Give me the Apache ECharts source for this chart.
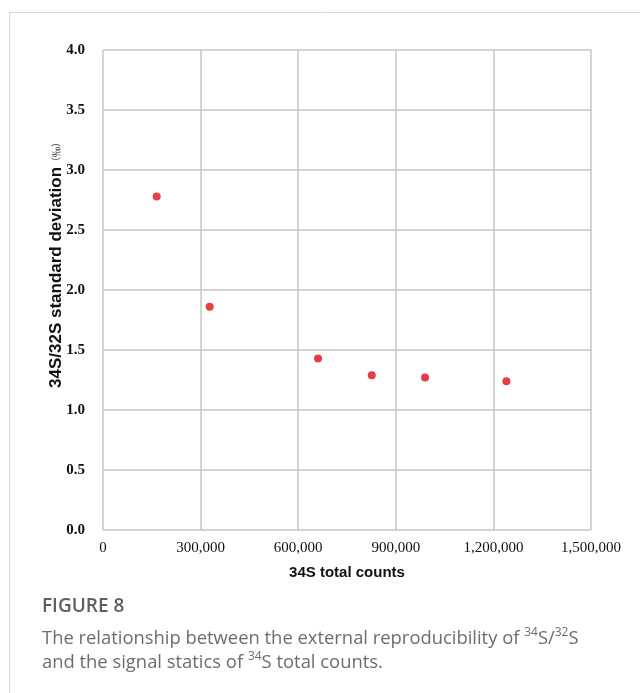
<!DOCTYPE html>
<html>
<head>
<meta charset="utf-8">
<script src="https://cdn.jsdelivr.net/npm/echarts@6/dist/echarts.min.js"></script>
<style>
  html, body { margin: 0; padding: 0; background: #fff; }
  #chart { width: 640px; height: 693px; }
</style>
</head>
<body>
<div id="chart"></div>
<script>
// 34S total counts per analysis and the resulting 34S/32S standard deviation (‰)
const totalCounts = [165000, 328000, 661000, 826000, 990000, 1240000];
const stdDeviation = [2.78, 1.86, 1.43, 1.29, 1.27, 1.24];

// Axis ranges and tick spacing
const xTicks = { min: 0, max: 1500000, step: 300000 };
const yTicks = { min: 0, max: 4, step: 0.5 };

const points = totalCounts.map((c, i) => [c, stdDeviation[i]]);

const chart = echarts.init(document.getElementById('chart'), null, { renderer: 'canvas' });

const gridColor = '#c6c6c6';
const serif = '"Liberation Serif", "Times New Roman", serif';
const sans = '"Liberation Sans", Arial, sans-serif';
const captionFont = '"Open Sans", "Noto Sans", sans-serif';
const captionColor = '#6d6d6d';

const captionRich = {
  t: { fontFamily: captionFont, fontSize: 18.4, fill: captionColor, lineHeight: 24 },
  s: { fontFamily: captionFont, fontSize: 12, fill: captionColor, lineHeight: 13, verticalAlign: 'top' }
};

chart.setOption({
  animation: false,
  backgroundColor: '#fff',
  grid: { left: 103, right: 49, top: 50, bottom: 163, containLabel: false },
  xAxis: {
    type: 'value',
    min: xTicks.min, max: xTicks.max, interval: xTicks.step,
    axisLine: { show: false },
    axisTick: { show: false },
    splitLine: { show: true, lineStyle: { color: gridColor, width: 1.5 } },
    axisLabel: {
      margin: 11,
      fontFamily: serif, fontSize: 15, color: '#111',
      formatter: v => v.toLocaleString('en-US')
    },
    name: '34S total counts',
    nameLocation: 'middle',
    nameGap: 35,
    nameTextStyle: { fontFamily: sans, fontWeight: 'bold', fontSize: 15, color: '#111' }
  },
  yAxis: {
    type: 'value',
    min: yTicks.min, max: yTicks.max, interval: yTicks.step,
    axisLine: { show: false },
    axisTick: { show: false },
    splitLine: { show: true, lineStyle: { color: gridColor, width: 1.5 } },
    axisLabel: {
      margin: 18,
      fontFamily: serif, fontSize: 15, fontWeight: 'bold', color: '#111',
      formatter: v => v.toFixed(1)
    }
  },
  series: [{
    type: 'scatter',
    data: points,
    symbol: 'circle',
    symbolSize: 8,
    itemStyle: { color: '#e30d16' },
    z: 5
  }],
  graphic: [
    // panel border (top and left)
    {
      type: 'line', silent: true,
      shape: { x1: 9.5, y1: 12.5, x2: 640, y2: 12.5 },
      style: { stroke: '#d9d9d9', lineWidth: 1 }
    },
    {
      type: 'line', silent: true,
      shape: { x1: 9.5, y1: 12.5, x2: 9.5, y2: 693 },
      style: { stroke: '#d9d9d9', lineWidth: 1 }
    },
    // y-axis title, reading bottom to top
    {
      type: 'text',
      x: 56, y: 388,
      rotation: Math.PI / 2,
      style: {
        text: '{m|34S/32S standard deviation}{u|（‰）}',
        align: 'left', verticalAlign: 'middle',
        rich: {
          m: { fontFamily: sans, fontWeight: 'bold', fontSize: 17, fill: '#111' },
          u: { fontFamily: '"Noto Sans CJK SC", sans-serif', fontSize: 10, fill: '#333' }
        }
      }
    },
    // caption
    {
      type: 'text', x: 42, y: 607,
      style: {
        text: 'FIGURE 8', verticalAlign: 'middle',
        font: '600 19px ' + captionFont, fill: '#5f5f5f'
      }
    },
    {
      type: 'text', x: 42, y: 639,
      style: {
        text: '{t|The relationship between the external reproducibility of }{s|34}{t|S/}{s|32}{t|S}',
        verticalAlign: 'middle',
        rich: captionRich
      }
    },
    {
      type: 'text', x: 42, y: 663,
      style: {
        text: '{t|and the signal statics of }{s|34}{t|S total counts.}',
        verticalAlign: 'middle',
        rich: captionRich
      }
    }
  ]
});
</script>
</body>
</html>
